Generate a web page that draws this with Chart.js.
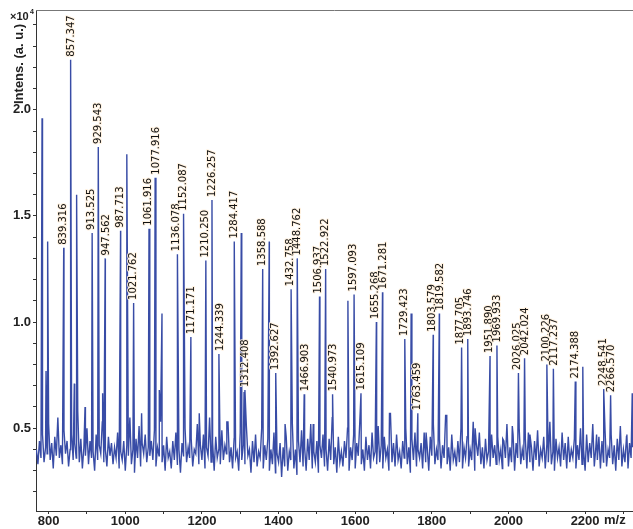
<!DOCTYPE html>
<html><head><meta charset="utf-8">
<script src="https://cdn.jsdelivr.net/npm/chart.js@4"></script>
<style>html,body{margin:0;padding:0;background:#fff;}canvas{display:block;}</style>
</head><body>
<canvas id="c" width="633" height="529"></canvas>
<script>
// Labeled peaks (m/z, intensity x10^4)
const labeledMz = [839.316, 857.347, 913.525, 929.543, 947.562, 987.713, 1021.762, 1061.916, 1077.916, 1136.078, 1152.087, 1171.171, 1210.250, 1226.257, 1244.339, 1284.417, 1312.408, 1358.588, 1392.627, 1432.758, 1448.762, 1466.903, 1506.937, 1522.922, 1540.973, 1597.093, 1615.109, 1655.268, 1671.281, 1729.423, 1763.459, 1803.579, 1819.582, 1877.705, 1893.746, 1951.890, 1969.933, 2026.025, 2042.024, 2100.226, 2117.237, 2174.388, 2248.541, 2266.570];
const labeledIntensity = [1.35, 2.236, 1.42, 1.825, 1.30, 1.43, 1.09, 1.44, 1.68, 1.32, 1.51, 0.93, 1.29, 1.575, 0.85, 1.38, 0.68, 1.25, 0.76, 1.155, 1.30, 0.66, 1.12, 1.25, 0.66, 1.13, 0.665, 1.00, 1.14, 0.92, 0.57, 0.94, 1.04, 0.88, 0.92, 0.84, 0.89, 0.76, 0.83, 0.80, 0.78, 0.72, 0.685, 0.655];
const labeledText = ["839.316", "857.347", "913.525", "929.543", "947.562", "987.713", "1021.762", "1061.916", "1077.916", "1136.078", "1152.087", "1171.171", "1210.250", "1226.257", "1244.339", "1284.417", "1312.408", "1358.588", "1392.627", "1432.758", "1448.762", "1466.903", "1506.937", "1522.922", "1540.973", "1597.093", "1615.109", "1655.268", "1671.281", "1729.423", "1763.459", "1803.579", "1819.582", "1877.705", "1893.746", "1951.890", "1969.933", "2026.025", "2042.024", "2100.226", "2117.237", "2174.388", "2248.541", "2266.570"];

// Unlabeled peaks
const minorMz = [782.8, 793.2, 797.4, 867.0, 873.0, 895.0, 940.9, 1004.0, 1042.6, 1088.8, 1095.8, 1193.0, 1265.0, 1302.7, 1310.0, 1375.7, 1417.0, 1490.5, 1581.0, 1689.5, 1746.0, 1785.0, 1839.0, 1913.0, 1985.0, 2010.0, 2056.0, 2194.0, 2230.0, 2309.0, 2323.0];
const minorIntensity = [1.96, 0.77, 1.38, 0.71, 1.60, 0.60, 0.665, 1.79, 0.57, 0.68, 1.04, 0.57, 0.53, 1.42, 0.67, 1.38, 0.52, 0.52, 1.10, 0.57, 1.04, 0.48, 0.56, 0.50, 0.45, 0.51, 0.47, 0.79, 0.47, 0.47, 0.665];

// Noise baseline, sampled every 4 m/z from 768
const baselineStartMz = 768;
const baselineStepMz = 4;
const baselineIntensity = [
0.40,0.33,0.44,0.36,0.47,0.34,0.41,0.38,0.52,0.35,0.43,0.31,0.46,0.37,0.55,0.36,0.42,0.33,0.49,0.38,0.44,0.32,0.40,0.47,0.35,
0.43,0.36,0.58,0.34,0.45,0.31,0.41,0.37,0.50,0.33,0.44,0.36,0.39,0.30,0.47,0.35,0.42,0.38,0.53,0.34,0.40,0.32,0.46,0.37,0.43,
0.33,0.41,0.36,0.48,0.31,0.39,0.35,0.44,0.30,0.42,0.37,0.55,0.33,0.40,0.29,0.45,0.36,0.51,0.32,0.43,0.38,0.47,0.34,0.41,0.37,
0.44,0.35,0.49,0.32,0.41,0.37,0.53,0.34,0.42,0.30,0.46,0.36,0.39,0.31,0.44,0.35,0.48,0.33,0.40,0.29,0.43,0.37,0.50,0.34,0.41,
0.36,0.45,0.32,0.40,0.38,0.52,0.33,0.42,0.35,0.47,0.31,0.41,0.37,0.55,0.34,0.43,0.30,0.46,0.36,0.40,0.33,0.49,0.35,0.42,0.38,
0.53,0.34,0.41,0.31,0.45,0.36,0.39,0.30,0.48,0.35,0.42,0.33,0.51,0.37,0.40,0.29,0.44,0.34,0.47,0.32,0.39,0.36,0.50,0.31,0.42,
0.35,0.45,0.30,0.40,0.33,0.48,0.29,0.38,0.34,0.43,0.27,0.41,0.32,0.46,0.30,0.39,0.35,0.52,0.31,0.40,0.28,0.44,0.34,0.49,0.32,
0.41,0.30,0.45,0.35,0.52,0.31,0.39,0.34,0.44,0.29,0.42,0.36,0.47,0.32,0.40,0.30,0.45,0.35,0.55,0.33,0.41,0.29,0.46,0.34,0.39,
0.32,0.44,0.36,0.50,0.30,0.41,0.35,0.47,0.31,0.43,0.37,0.53,0.33,0.40,0.30,0.46,0.35,0.42,0.31,0.48,0.36,0.39,0.33,0.51,0.34,
0.42,0.31,0.46,0.36,0.40,0.30,0.57,0.34,0.43,0.32,0.47,0.35,0.39,0.31,0.44,0.36,0.50,0.33,0.41,0.29,0.45,0.35,0.48,0.32,0.40,
0.36,0.43,0.31,0.48,0.34,0.41,0.30,0.46,0.37,0.52,0.33,0.40,0.35,0.45,0.31,0.42,0.36,0.56,0.33,0.41,0.30,0.47,0.35,0.39,0.32,
0.44,0.34,0.50,0.31,0.41,0.36,0.46,0.32,0.40,0.35,0.53,0.30,0.43,0.37,0.48,0.33,0.41,0.31,0.45,0.35,0.39,0.32,0.47,0.36,0.42,
0.33,0.46,0.35,0.40,0.31,0.44,0.36,0.52,0.32,0.41,0.34,0.47,0.30,0.43,0.36,0.50,0.33,0.40,0.35,0.45,0.31,0.48,0.34,0.41,0.30,
0.44,0.35,0.49,0.32,0.40,0.36,0.46,0.31,0.42,0.34,0.53,0.33,0.39,0.30,0.45,0.36,0.41,0.32,0.48,0.35,0.43,0.31,0.46,0.34,0.40,
0.36,0.45,0.31,0.42,0.35,0.50,0.33,0.40,0.30,0.47,0.34,0.43,0.36,0.52,0.32,0.41,0.35,0.46,0.31,0.44,0.34,0.49,0.32,0.40,0.36,
0.47,0.33,0.42,0.30,0.45,0.35,0.51,0.32,0.40,0.34,0.46,0.31,0.43,0.36,0.41
];

const xTickLabels = [800, 1000, 1200, 1400, 1600, 1800, 2000, 2200];
const yTickLabels = [0.5, 1.0, 1.5, 2.0];

// Build the spectrum trace
const points = [];
baselineIntensity.forEach((v, i) => points.push({x: baselineStartMz + i * baselineStepMz, y: v}));
minorMz.forEach((m, i) => points.push({x: m, y: minorIntensity[i]}));
labeledMz.forEach((m, i) => points.push({x: m, y: labeledIntensity[i]}));
points.sort((a, b) => a.x - b.x);

const axisColor = '#333';
const tickFont = {family: '"Liberation Sans", Arial, sans-serif', size: 13, weight: 'bold'};

const decorPlugin = {
  id: 'decor',
  afterDatasetsDraw(chart) {
    const {ctx, scales: {x, y}, chartArea} = chart;
    ctx.save();
    // label x positions, nudged apart when neighbours are too close
    const lx = labeledMz.map(m => x.getPixelForValue(m));
    const minGap = 8;
    for (let i = 1; i < lx.length; i++) {
      const d = lx[i] - lx[i - 1];
      if (d < minGap) {
        const push = (minGap - d) / 2;
        lx[i - 1] -= push;
        lx[i] += push;
      }
    }
    ctx.font = '10px "DejaVu Sans", sans-serif';
    ctx.textAlign = 'left';
    ctx.textBaseline = 'middle';
    ctx.lineJoin = 'round';
    labeledMz.forEach((m, i) => {
      const py = y.getPixelForValue(labeledIntensity[i]);
      ctx.save();
      ctx.translate(lx[i], py - 3);
      ctx.rotate(-Math.PI / 2);
      ctx.strokeStyle = 'rgba(255,240,220,0.9)';
      ctx.lineWidth = 2;
      ctx.strokeText(labeledText[i], 0, 0);
      ctx.fillStyle = '#111';
      ctx.fillText(labeledText[i], 0, 0);
      ctx.restore();
    });
    // top frame line
    ctx.strokeStyle = '#777';
    ctx.lineWidth = 1;
    ctx.beginPath();
    ctx.moveTo(chartArea.left, chartArea.top + 0.5);
    ctx.lineTo(chartArea.right, chartArea.top + 0.5);
    ctx.stroke();
    ctx.restore();
  },
  afterDraw(chart) {
    const {ctx} = chart;
    ctx.save();
    ctx.fillStyle = '#222';
    // y title
    ctx.font = 'bold 13px "Liberation Sans", Arial, sans-serif';
    ctx.save();
    ctx.translate(23, 104);
    ctx.rotate(-Math.PI / 2);
    ctx.textAlign = 'left';
    ctx.textBaseline = 'alphabetic';
    ctx.fillText('Intens. (a. u.)', 0, 0);
    ctx.restore();
    // x10^4
    ctx.font = 'bold 11px "Liberation Sans", Arial, sans-serif';
    ctx.textAlign = 'left';
    ctx.textBaseline = 'alphabetic';
    ctx.fillText('×10', 10, 20);
    ctx.font = 'bold 7px "Liberation Sans", Arial, sans-serif';
    ctx.fillText('4', 30, 14);
    // m/z
    ctx.font = 'bold 13px "Liberation Sans", Arial, sans-serif';
    ctx.fillText('m/z', 604, 524);
    ctx.restore();
  }
};

new Chart(document.getElementById('c'), {
  type: 'line',
  data: {
    datasets: [{
      data: points,
      borderColor: 'rgb(56,76,166)',
      borderWidth: 1.4,
      pointRadius: 0,
      tension: 0,
      fill: false
    }]
  },
  options: {
    responsive: false,
    animation: false,
    devicePixelRatio: 1,
    layout: {padding: {top: 10, left: 0, right: 0, bottom: 0}},
    plugins: {legend: {display: false}, tooltip: {enabled: false}},
    scales: {
      x: {
        type: 'linear',
        min: 767,
        max: 2325,
        afterFit: s => { s.height = 18; },
        border: {display: true, color: axisColor, width: 1},
        grid: {drawOnChartArea: false, drawTicks: true, tickLength: 3, color: axisColor},
        ticks: {
          stepSize: 100,
          includeBounds: false,
          autoSkip: false,
          maxRotation: 0,
          padding: 0,
          color: '#222',
          font: tickFont,
          callback: v => xTickLabels.includes(Math.round(v)) && Math.abs(v - Math.round(v)) < 1e-6 ? String(Math.round(v)) : ''
        }
      },
      y: {
        type: 'linear',
        min: 0.11,
        max: 2.47,
        afterFit: s => { s.width = 36; },
        border: {display: true, color: axisColor, width: 1},
        grid: {drawOnChartArea: false, drawTicks: true, tickLength: 3, color: axisColor},
        ticks: {
          stepSize: 0.1,
          includeBounds: false,
          autoSkip: false,
          padding: 2,
          color: '#222',
          font: tickFont,
          callback: v => yTickLabels.some(t => Math.abs(t - v) < 1e-6) ? Number(v).toFixed(1) : ''
        }
      }
    }
  },
  plugins: [decorPlugin]
});
</script>
</body></html>
